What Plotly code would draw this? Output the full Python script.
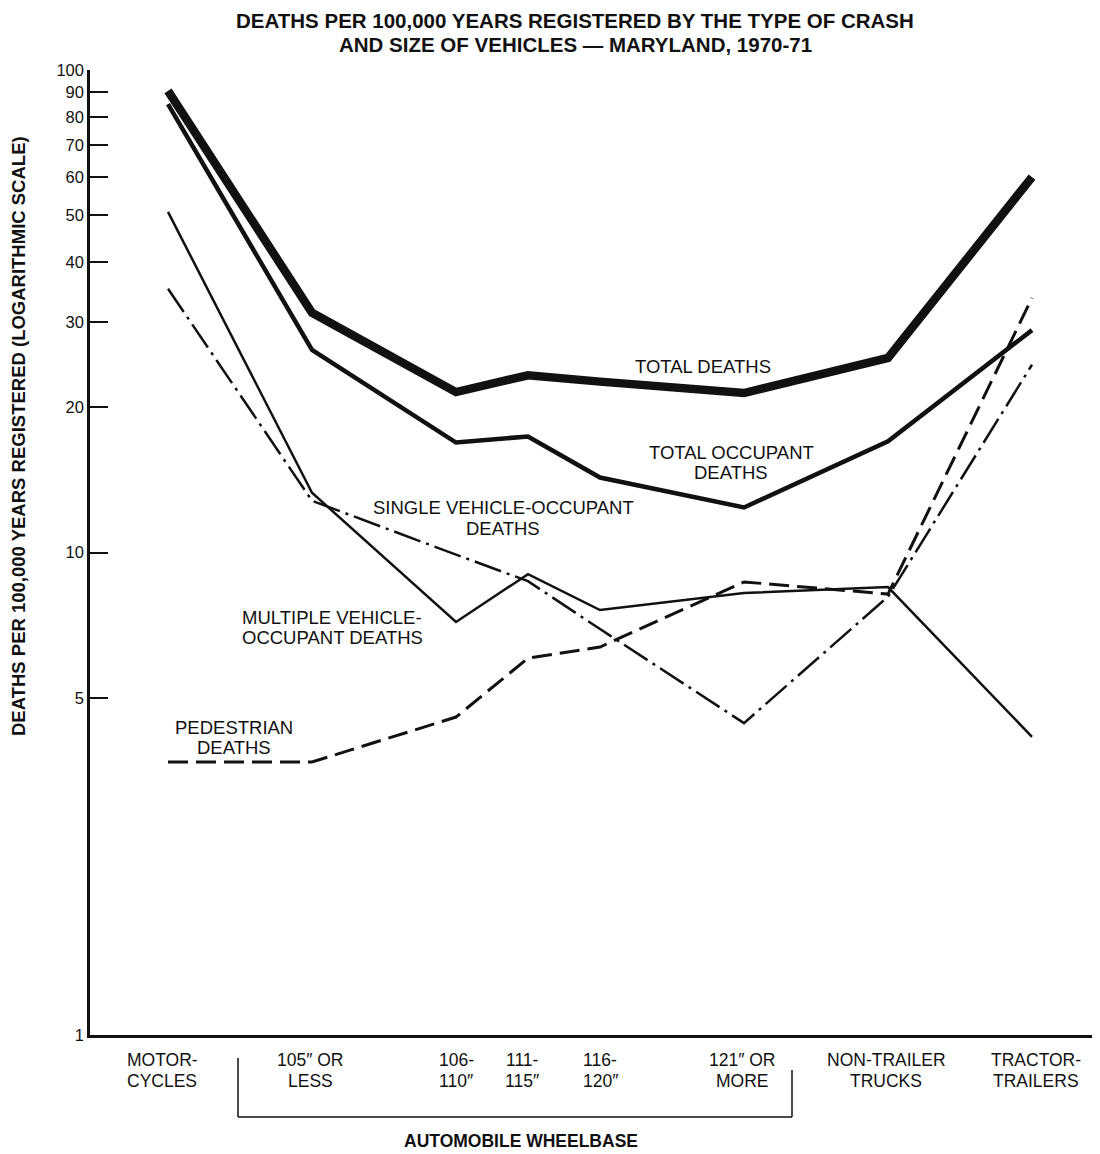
import plotly.graph_objects as go

# ---------------- data ----------------
categories = ["MOTOR-<br>CYCLES", "105″ OR<br>LESS", "106-<br>110″", "111-<br>115″",
              "116-<br>120″", "121″ OR<br>MORE", "NON-TRAILER<br>TRUCKS", "TRACTOR-<br>TRAILERS"]
total_deaths = [90.5, 31.4, 21.5, 23.3, 22.6, 21.4, 25.3, 60.0]
total_occupant = [85.0, 26.3, 16.9, 17.4, 14.3, 12.4, 17.0, 28.9]
multiple_vehicle = [50.8, 13.3, 7.18, 9.02, 7.6, 8.24, 8.48, 4.15]
single_vehicle = [35.2, 12.8, 9.9, 8.72, 6.94, 4.43, 8.1, 24.5]
pedestrian = [3.68, 3.68, 4.56, 6.04, 6.37, 8.69, 8.2, 33.7]
y_ticks = [1, 5, 10, 20, 30, 40, 50, 60, 70, 80, 90, 100]

# ---------------- layout constants (page pixels) ----------------
xpos = [0, 2, 4, 5, 6, 8, 10, 12]   # category spacing on the x scale
OFF = 8                              # page body margin
PAGE_W, PAGE_H = 1100, 1154
W, H = PAGE_W - OFF, PAGE_H - OFF
PL, PR, PT, PB = 90, 1100, 70, 1035   # plot area in page pixels
ML, MT = PL - OFF, PT - OFF
MR, MB = PAGE_W - PR, PAGE_H - PB
PW, PH = PR - PL, PB - PT
X0, UNIT = 168.0, 72.0
xr = [(PL - X0) / UNIT, (PR - X0) / UNIT]

def px_to_x(px):
    return (px - X0) / UNIT

def py_to_paper(py):
    return (PB - py) / PH

FONT = "Liberation Sans, Arial, Helvetica, sans-serif"
INK = "#111111"

fig = go.Figure()

series = [
    ("TOTAL DEATHS", total_deaths, 8.5, "solid"),
    ("TOTAL OCCUPANT DEATHS", total_occupant, 4.5, "solid"),
    ("MULTIPLE VEHICLE-OCCUPANT DEATHS", multiple_vehicle, 2.5, "solid"),
    ("SINGLE VEHICLE-OCCUPANT DEATHS", single_vehicle, 2.5, "28px,6px,3px,6px"),
    ("PEDESTRIAN DEATHS", pedestrian, 3, "20px,8px"),
]
for name, vals, w, dash in series:
    fig.add_trace(go.Scatter(x=xpos, y=vals, mode="lines", name=name,
                             line=dict(color=INK, width=w, dash=dash),
                             showlegend=False, hoverinfo="x+y+name"))

annotations = []

def add_text(txt, px, py, size, bold=False, xref="x", **kw):
    t = "<b>%s</b>" % txt if bold else txt
    xv = px_to_x(px) if xref == "x" else (px - PL) / PW
    annotations.append(dict(text=t, x=xv, y=py_to_paper(py), xref=xref, yref="paper",
                            showarrow=False, font=dict(family=FONT, size=size, color=INK),
                            xanchor="center", yanchor="middle", align="center", **kw))

# series labels (one annotation per line)
labels = [
    (["TOTAL DEATHS"], 703, 366),
    (["TOTAL OCCUPANT", "DEATHS"], 731, 452),
    (["SINGLE VEHICLE-OCCUPANT", "DEATHS"], 503, 508),
    (["MULTIPLE VEHICLE-", "OCCUPANT DEATHS"], 332, 617),
    (["PEDESTRIAN", "DEATHS"], 234, 727),
]
for lines, px, py in labels:
    for i, ln in enumerate(lines):
        add_text(ln, px, py + 20 * i, 18.5)

# category labels
cat_px = [162, 310, 456, 522, 600, 742, 886, 1036]
for txt, px in zip(categories, cat_px):
    for i, ln in enumerate(txt.split("<br>")):
        add_text(ln, px, 1060 + 21 * i, 17.5)

add_text("AUTOMOBILE WHEELBASE", 521, 1141, 17.5, bold=True)

annotations.append(dict(text="<b>DEATHS PER 100,000 YEARS REGISTERED (LOGARITHMIC SCALE)</b>",
                        x=(19 - PL) / PW, y=py_to_paper(436), xref="paper", yref="paper",
                        showarrow=False, textangle=-90,
                        font=dict(family=FONT, size=18.5, color=INK),
                        xanchor="center", yanchor="middle"))

add_text("DEATHS PER 100,000 YEARS REGISTERED BY THE TYPE OF CRASH", 575, 20, 20.5,
         bold=True, xref="paper")
add_text("AND SIZE OF VEHICLES — MARYLAND, 1970-71", 575, 44, 20.5, bold=True, xref="paper")

shapes = [
    dict(type="line", xref="x", yref="paper", x0=px_to_x(238), x1=px_to_x(238),
         y0=py_to_paper(1058), y1=py_to_paper(1117), line=dict(color=INK, width=1.5)),
    dict(type="line", xref="x", yref="paper", x0=px_to_x(238), x1=px_to_x(792),
         y0=py_to_paper(1117), y1=py_to_paper(1117), line=dict(color=INK, width=1.5)),
    dict(type="line", xref="x", yref="paper", x0=px_to_x(792), x1=px_to_x(792),
         y0=py_to_paper(1070), y1=py_to_paper(1117), line=dict(color=INK, width=1.5)),
]

fig.update_layout(
    width=W, height=H, autosize=False,
    margin=dict(l=ML, r=MR, t=MT, b=MB, pad=0),
    paper_bgcolor="white", plot_bgcolor="white",
    annotations=annotations, shapes=shapes,
    xaxis=dict(range=xr, showgrid=False, zeroline=False, showticklabels=False, ticks="",
               showline=True, linecolor=INK, linewidth=2.5, fixedrange=True),
    yaxis=dict(type="log", range=[0, 2], showgrid=False, zeroline=False,
               tickvals=y_ticks, ticktext=[str(v) for v in y_ticks],
               ticks="inside", ticklen=18, tickwidth=2, tickcolor=INK,
               tickfont=dict(family=FONT, size=16.5, color=INK),
               showline=True, linecolor=INK, linewidth=2.5, fixedrange=True),
)

fig.write_html("out.html")
